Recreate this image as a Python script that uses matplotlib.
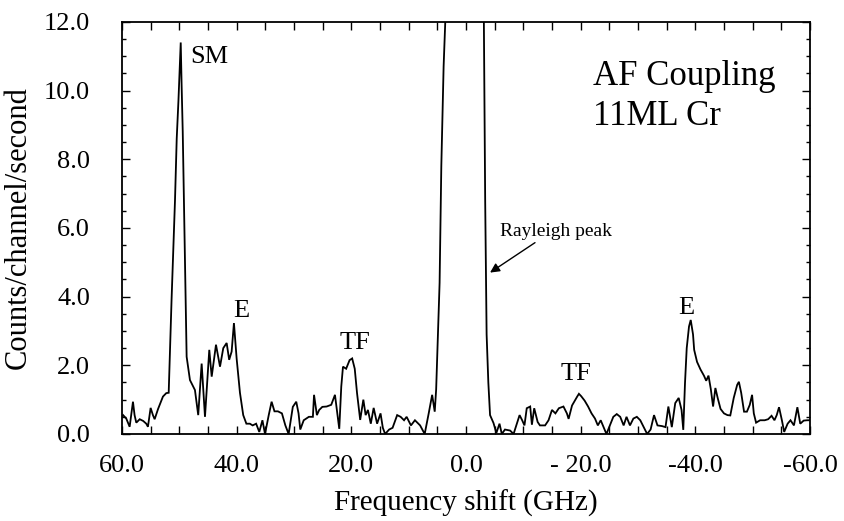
import matplotlib
matplotlib.use("Agg")
import matplotlib.pyplot as plt
from matplotlib.ticker import MultipleLocator, FixedLocator, FixedFormatter

plt.rcParams['font.family'] = ['Liberation Serif', 'DejaVu Serif']

# Brillouin spectrum: frequency shift (GHz) and counts/channel/second
freq = [60.0, 59.8, 59.25, 58.66, 58.08, 57.8, 57.5, 56.9, 56.3, 55.76, 55.47, 55.0,
        54.6, 54.3, 53.7, 52.85, 52.27, 51.85, 51.35, 50.75, 50.45, 50.15, 49.75,
        49.6, 49.4, 49.0, 48.72, 48.14, 47.27, 46.7, 46.1, 45.52, 44.77, 44.35,
        43.6, 42.9, 42.33, 41.74, 41.3, 40.87, 40.47, 40.0, 39.42, 38.85, 38.3,
        37.7, 37.2, 36.6, 36.05, 35.5, 35.05, 34.4, 33.9, 33.4, 32.8, 32.1, 31.5,
        30.93, 30.2, 29.6, 29.2, 28.9, 28.3, 27.4, 26.7, 26.5, 26.0, 25.6, 25.05,
        24.3, 23.5, 22.85, 22.1, 21.75, 21.45, 20.9, 20.3, 19.85, 19.4, 19.0,
        18.45, 17.9, 17.5, 17.1, 16.6, 16.1, 15.5, 14.9, 14.5, 14.1, 13.4, 12.8,
        12.0, 11.4, 10.8, 10.35, 9.6, 8.9, 8.0, 7.2, 6.5, 5.9, 5.45, 5.2, 4.9,
        4.6, 4.3, 3.9, 3.5, 2.0, 0.0, -2.0, -3.1, -3.35, -3.6, -3.9, -4.2, -4.8,
        -5.3, -5.85, -6.25, -6.8, -7.7, -8.3, -8.9, -9.35, -9.8, -10.2, -10.6,
        -11.2, -11.5, -11.9, -12.5, -12.9, -13.8, -14.4, -15.0, -15.6, -16.2,
        -17.0, -17.6, -17.9, -18.5, -19.4, -19.7, -20.1, -20.7, -21.3, -21.9,
        -22.5, -23.0, -23.5, -24.0, -24.5, -25.1, -25.7, -26.3, -26.9, -27.5,
        -28.0, -28.6, -29.2, -29.8, -30.4, -31.0, -31.6, -32.2, -32.8, -33.4,
        -34.2, -34.8, -35.3, -35.9, -36.5, -37.1, -37.6, -37.9, -38.2, -38.5,
        -38.9, -39.2, -39.6, -39.8, -40.3, -40.9, -41.5, -41.9, -42.3, -42.7,
        -43.1, -43.5, -43.9, -44.4, -45.0, -45.6, -46.1, -46.7, -47.3, -47.6,
        -48.0, -48.5, -49.0, -49.5, -49.9, -50.2, -50.6, -51.3, -52.1, -52.7,
        -53.3, -53.8, -54.2, -54.6, -55.1, -55.5, -56.1, -56.6, -57.2, -57.8,
        -58.3, -58.9, -59.5, -60.0]

counts = [0.5, 0.55, 0.45, 0.21, 0.94, 0.55, 0.33, 0.43, 0.38, 0.3, 0.21, 0.76,
          0.55, 0.43, 0.73, 1.09, 1.19, 1.2, 3.9, 6.8, 8.6, 9.7, 11.4,
          10.2, 8.8, 4.9, 2.25, 1.57, 1.28, 0.55, 2.05, 0.5, 2.45, 1.67,
          2.6, 1.96, 2.5, 2.65, 2.16, 2.4, 3.23, 2.2, 1.2, 0.55, 0.3,
          0.3, 0.25, 0.3, 0.06, 0.4, 0.0, 0.55, 0.94, 0.66, 0.66, 0.6, 0.25,
          0.0, 0.79, 0.94, 0.6, 0.13, 0.4, 0.5, 0.5, 1.14, 0.55, 0.7, 0.79,
          0.8, 0.85, 1.14, 0.15, 1.38, 1.96, 1.9, 2.15, 2.2, 1.9, 1.19,
          0.41, 1.0, 0.55, 0.7, 0.3, 0.76, 0.3, 0.6, 0.18, 0.0, 0.13, 0.18,
          0.55, 0.5, 0.4, 0.5, 0.25, 0.4, 0.25, 0.0, 0.6, 1.14, 0.65, 1.3, 2.9,
          4.4, 7.8, 10.7, 12.5, 40.0, 80.0, 40.0, 12.5, 6.8, 2.9, 1.5, 0.55, 0.32,
          0.03, 0.3, 0.0, 0.13, 0.1, 0.0, 0.32, 0.55, 0.4, 0.25, 0.75,
          0.8, 0.27, 0.75, 0.35, 0.25, 0.25, 0.4, 0.7, 0.6, 0.75,
          0.8, 0.6, 0.44, 0.83, 1.09, 1.17, 1.1, 0.97, 0.8, 0.6,
          0.45, 0.25, 0.4, 0.2, 0.0, 0.25, 0.5, 0.58, 0.5, 0.25,
          0.5, 0.25, 0.45, 0.5, 0.4, 0.2, 0.0, 0.13, 0.55, 0.25,
          0.23, 0.2, 0.8, 0.2, 0.9, 1.05, 0.7, 0.12, 1.48, 2.5,
          3.13, 3.32, 2.9, 2.45, 2.1, 1.88, 1.7, 1.55, 1.7, 1.31,
          0.8, 1.34, 1.05, 0.73, 0.6, 0.55, 0.54, 1.05, 1.43, 1.52,
          1.2, 0.65, 0.65, 0.85, 1.14, 0.6, 0.33, 0.4, 0.4, 0.43,
          0.53, 0.4, 0.55, 0.78, 0.4, 0.06, 0.3, 0.4, 0.25, 0.78,
          0.3, 0.39, 0.4, 0.4]

x_tick_values = [60, 40, 20, 0, -20, -40, -60]
x_tick_labels = ["60.0", "40.0", "20.0", "0.0", "- 20.0", "-40.0", "-60.0"]
y_tick_values = [0, 2, 4, 6, 8, 10, 12]
y_tick_labels = ["0.0", "2.0", "4.0", "6.0", "8.0", "10.0", "12.0"]

fig = plt.figure(figsize=(8.44, 5.21), dpi=100)
ax = fig.add_axes([0.1445, 0.167, 0.8152, 0.791])

ax.plot(freq, counts, color="black", lw=1.3, solid_joinstyle="miter")

ax.set_xlim(60, -60)
ax.set_ylim(0, 12)

ax.xaxis.set_major_locator(FixedLocator(x_tick_values))
ax.xaxis.set_major_formatter(FixedFormatter(x_tick_labels))
ax.xaxis.set_minor_locator(MultipleLocator(5))
ax.yaxis.set_major_locator(FixedLocator(y_tick_values))
ax.yaxis.set_major_formatter(FixedFormatter(y_tick_labels))
ax.yaxis.set_minor_locator(MultipleLocator(0.5))

ax.tick_params(which="both", direction="in", top=True, right=True, width=1.0)
ax.tick_params(which="major", length=6, labelsize=19)
ax.tick_params(axis="x", which="minor", length=6)
ax.tick_params(axis="y", which="minor", length=3)
ax.tick_params(axis="x", which="major", pad=15)
ax.tick_params(axis="y", which="major", pad=23)
for s in ax.spines.values():
    s.set_linewidth(1.3)

ax.set_xlabel("Frequency shift (GHz)", fontsize=21, labelpad=9)
ax.set_ylabel("Counts/channel/second", fontsize=22, labelpad=8)

ax.text(48.1, 10.97, "SM", fontsize=19, ha="left", va="center")
ax.text(39.16, 3.58, "E", fontsize=19, ha="center", va="center")
ax.text(19.36, 2.65, "TF", fontsize=19, ha="center", va="center")
ax.text(-19.2, 1.75, "TF", fontsize=19, ha="center", va="center")
ax.text(-38.4, 3.67, "E", fontsize=19, ha="center", va="center")

ax.text(-22.15, 10.4, "AF Coupling", fontsize=25, ha="left", va="center")
ax.text(-22.15, 9.25, "11ML Cr", fontsize=25, ha="left", va="center")

ax.annotate("Rayleigh peak", xy=(-4.2, 4.7), xytext=(-5.93, 5.9),
            fontsize=14, ha="left", va="center",
            arrowprops=dict(arrowstyle="-|>", color="black", lw=1.0,
                            mutation_scale=14, shrinkA=0, shrinkB=0,
                            relpos=(0.35, 0.0)))

fig.savefig("out.png", dpi=100)
